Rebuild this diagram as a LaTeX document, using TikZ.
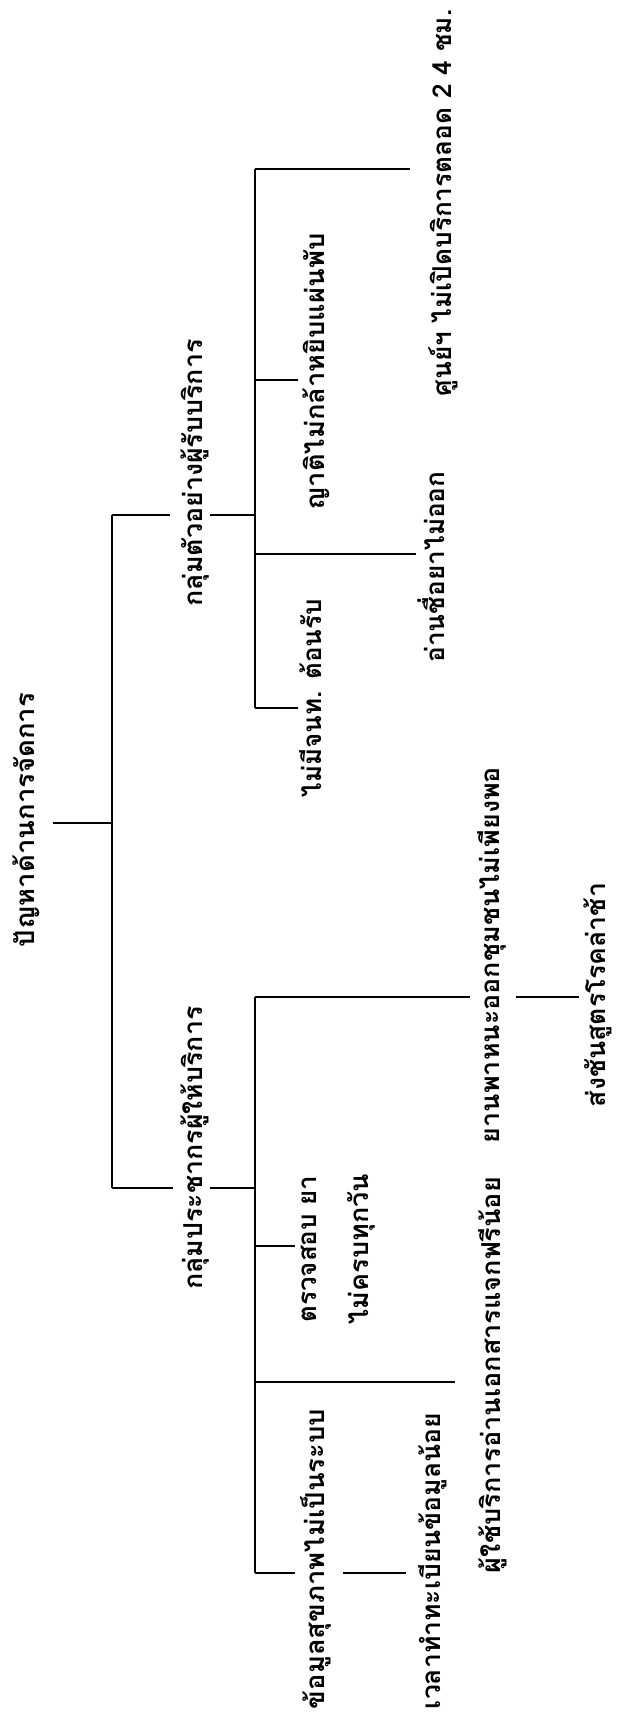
\documentclass[tikz,border=0pt]{standalone}
\usepackage{fontspec}
\usepackage{graphicx}
\newfontfamily\thaifont[Script=Thai]{Loma}
\newcommand{\fitlen}[2]{\resizebox{#1pt}{\height}{#2}}
\tikzset{
  lbl/.style={font=\thaifont\bfseries\fontsize{26}{32}\selectfont, rotate=90, inner sep=0pt, outer sep=0pt},
  lbltwo/.style={lbl, align=center, font=\thaifont\bfseries\fontsize{26}{52}\selectfont},
  conn/.style={line width=1.8pt}
}
\begin{document}
\begin{tikzpicture}[x=1pt,y=-1pt]
\useasboundingbox (0,0) rectangle (631,1716);
% root
\node[lbl, anchor=south] (root) at (40,820) {\fitlen{254}{ปัญหาด้านการจัดการ}};
\coordinate (m1) at (112,515);
\coordinate (m0) at (112,823);
\coordinate (m2) at (112,1188);
\draw[conn, shorten <=13pt] (root.south |- m0) -- (m0);
\draw[conn] (m1) -- (m2);
% group 1
\node[lbl, anchor=north] (g1) at (181,473) {\fitlen{267}{กลุ่มตัวอย่างผู้รับบริการ}};
\coordinate (b1) at (255,515);
\draw[conn, shorten >=11pt] (m1) -- (m1 -| g1.north);
\draw[conn] (g1.south |- b1) -- (b1);
\coordinate (t1) at (255,169);
\coordinate (t2) at (255,380);
\coordinate (t3) at (255,554);
\coordinate (t4) at (255,708);
\draw[conn] (t1) -- (t4);
\node[lbl, anchor=north] (shoon) at (429,203) {\fitlen{387}{ศูนย์ฯ ไม่เปิดบริการตลอด 2 4 ชม.}};
\node[lbl, anchor=north] (yati) at (303,372) {\fitlen{277}{ญาติไม่กล้าหยิบแผ่นพับ}};
\node[lbl, anchor=north] (arn) at (418,567) {\fitlen{191}{อ่านชื่อยาไม่ออก}};
\node[lbl, anchor=north] (maimee) at (299,698) {\fitlen{198}{ไม่มีจนท. ต้อนรับ}};
\draw[conn, shorten >=19pt] (t1) -- (t1 -| shoon.north);
\draw[conn, shorten >=5pt] (t2) -- (t2 -| yati.north);
\draw[conn, shorten >=2pt] (t3) -- (t3 -| arn.north);
\draw[conn, shorten >=1pt] (t4) -- (t4 -| maimee.north);
% group 2
\node[lbl, anchor=north] (g2) at (181,1148) {\fitlen{283}{กลุ่มประชากรผู้ให้บริการ}};
\coordinate (b2) at (255,1188);
\draw[conn, shorten >=8pt] (m2) -- (m2 -| g2.north);
\draw[conn] (g2.south |- b2) -- (b2);
\coordinate (u1) at (255,997);
\coordinate (u2) at (255,1246);
\coordinate (u3) at (255,1382);
\coordinate (u4) at (255,1573);
\draw[conn] (u1) -- (u4);
\node[lbl, anchor=north] (yan) at (477,955) {\fitlen{376}{ยานพาหนะออกชุมชนไม่เพียงพอ}};
\node[lbl, anchor=north] (song) at (584,995) {\fitlen{224}{ส่งชันสูตรโรคล่าช้า}};
\node[lbltwo, anchor=north] (truat) at (301,1249) {\fitlen{147}{ตรวจสอบ ยา}\\\fitlen{150}{ไม่ครบทุกวัน}};
\node[lbl, anchor=north] (phuchai) at (478,1375) {\fitlen{396}{ผู้ใช้บริการอ่านเอกสารแจกฟรีน้อย}};
\node[lbl, anchor=north] (khomoon) at (300,1559) {\fitlen{300}{ข้อมูลสุขภาพไม่เป็นระบบ}};
\node[lbl, anchor=north] (wela) at (418,1561) {\fitlen{296}{เวลาทำทะเบียนข้อมูลน้อย}};
\draw[conn, shorten >=7pt] (u1) -- (u1 -| yan.north);
\draw[conn, shorten <=10pt, shorten >=5pt] (yan.south |- u1) -- (u1 -| song.north);
\draw[conn, shorten >=6pt] (u2) -- (u2 -| truat.north);
\draw[conn, shorten >=23pt] (u3) -- (u3 -| phuchai.north);
\draw[conn, shorten >=5pt] (u4) -- (u4 -| khomoon.north);
\draw[conn, shorten <=12pt, shorten >=12pt] (khomoon.south |- u4) -- (u4 -| wela.north);
\end{tikzpicture}
\end{document}
